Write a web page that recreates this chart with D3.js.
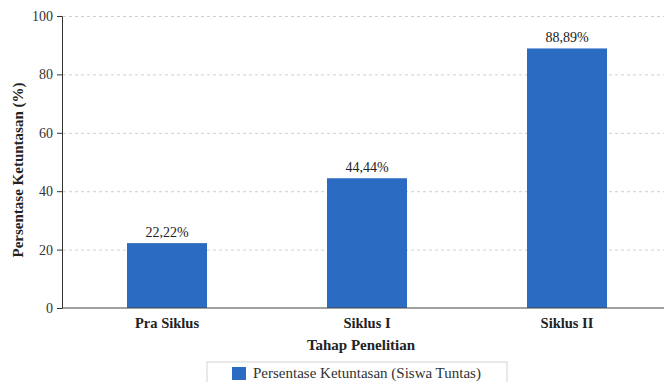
<!DOCTYPE html>
<html>
<head>
<meta charset="utf-8">
<script src="https://cdn.jsdelivr.net/npm/d3@7"></script>
<style>
  body { margin: 0; background: #fff; }
  svg { display: block; font-family: "Liberation Serif", "Times New Roman", serif; }
  .grid line { stroke: #cfcfcf; stroke-dasharray: 3,3; }
  .grid .domain { display: none; }
</style>
</head>
<body>
<div id="chart"></div>
<script>
// ---------------------------- DATA ----------------------------//
const categories = ['Pra Siklus', 'Siklus I', 'Siklus II'];
const values = [22.22, 44.44, 88.89];
const yTicks = [0, 20, 40, 60, 80, 100];
const seriesName = 'Persentase Ketuntasan (Siswa Tuntas)';
const xTitle = 'Tahap Penelitian';
const yTitle = 'Persentase Ketuntasan (%)';

const width = 664;
const height = 382;
const color = '#2b6cc2';

const svg = d3.select('#chart').append('svg')
  .attr('width', width)
  .attr('height', height);

// --------------------------- SCALES ---------------------------//
const x = d3.scaleBand()
  .domain(categories)
  .range([67, 667])
  .paddingInner(0.6)
  .paddingOuter(0.3);

const y = d3.scaleLinear()
  .domain([0, 100])
  .range([308, 16]);

// ---------------------------- GRID ----------------------------//
svg.append('g')
  .attr('class', 'grid')
  .attr('transform', 'translate(63,0)')
  .call(d3.axisRight(y).tickValues(yTicks.slice(1)).tickSize(width - 63).tickFormat(''));

// ---------------------------- BARS ----------------------------//
const data = categories.map((c, i) => ({ cat: c, val: values[i] }));

svg.append('g').selectAll('rect')
  .data(data)
  .enter()
  .append('rect')
  .attr('x', d => x(d.cat))
  .attr('y', d => y(d.val))
  .attr('width', x.bandwidth())
  .attr('height', d => y(0) - y(d.val))
  .attr('fill', color);

svg.append('g').selectAll('text')
  .data(data)
  .enter()
  .append('text')
  .attr('x', d => x(d.cat) + x.bandwidth() / 2)
  .attr('y', d => y(d.val) - 6)
  .attr('text-anchor', 'middle')
  .attr('font-size', 14)
  .attr('fill', '#222')
  .text(d => d.val.toFixed(2).replace('.', ',') + '%');

// ---------------------------- AXES ----------------------------//
const yAxis = svg.append('g')
  .attr('transform', 'translate(62,0)')
  .call(d3.axisLeft(y).tickValues(yTicks).tickSize(5).tickPadding(4));
yAxis.select('.domain').attr('stroke', '#333');
yAxis.selectAll('.tick line').attr('stroke', '#333');
yAxis.selectAll('.tick text')
  .attr('font-size', 14)
  .attr('font-family', '"Liberation Serif", serif')
  .attr('fill', '#333');

svg.append('line')
  .attr('x1', 62).attr('x2', width)
  .attr('y1', y(0)).attr('y2', y(0))
  .attr('stroke', '#444')
  .attr('stroke-width', 1.2);

svg.append('g').selectAll('text')
  .data(categories)
  .enter()
  .append('text')
  .attr('x', d => x(d) + x.bandwidth() / 2)
  .attr('y', 328)
  .attr('text-anchor', 'middle')
  .attr('font-size', 14.5)
  .attr('font-weight', 'bold')
  .attr('fill', '#222')
  .text(d => d);

svg.append('text')
  .attr('x', 361)
  .attr('y', 350)
  .attr('text-anchor', 'middle')
  .attr('font-size', 15)
  .attr('font-weight', 'bold')
  .attr('fill', '#222')
  .text(xTitle);

svg.append('text')
  .attr('transform', `translate(23,${(y(0) + y(100)) / 2 + 8}) rotate(-90)`)
  .attr('text-anchor', 'middle')
  .attr('font-size', 15)
  .attr('font-weight', 'bold')
  .attr('fill', '#222')
  .text(yTitle);

// --------------------------- LEGEND ---------------------------//
const legend = svg.append('g').attr('transform', 'translate(207,362)');
legend.append('rect')
  .attr('x', 0).attr('y', 0)
  .attr('width', 300).attr('height', 30)
  .attr('fill', '#fff')
  .attr('stroke', '#d4d4d4');
legend.append('rect')
  .attr('x', 25).attr('y', 5)
  .attr('width', 14).attr('height', 13)
  .attr('fill', color);
legend.append('text')
  .attr('x', 46).attr('y', 16)
  .attr('font-size', 15)
  .attr('fill', '#333')
  .text(seriesName);
</script>
</body>
</html>
